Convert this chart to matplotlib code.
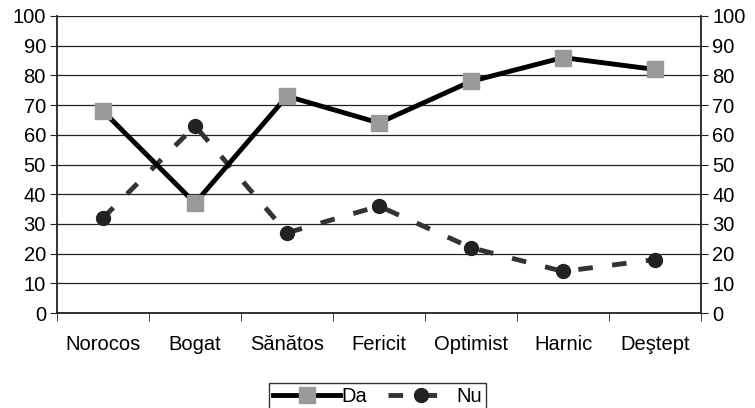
import matplotlib.pyplot as plt
import numpy as np

plt.rcParams['font.family'] = ['Liberation Sans', 'DejaVu Sans']

categorii = ['Norocos', 'Bogat', 'Sănătos', 'Fericit', 'Optimist', 'Harnic', 'Deştept']
da = [68, 37, 73, 64, 78, 86, 82]
nu = [32, 63, 27, 36, 22, 14, 18]

fig = plt.figure(figsize=(7.55, 4.08), dpi=100)
ax = fig.add_axes([0.0755, 0.2328, 0.853, 0.728])
x = np.arange(len(categorii))

ax.plot(x, nu, color='#333333', lw=3.5, dashes=(3, 4), marker='o', ms=10,
        markerfacecolor='#222222', markeredgecolor='#222222', label='Nu', zorder=3)
ax.plot(x, da, color='black', lw=3.5, marker='s', ms=11,
        markerfacecolor='#999999', markeredgecolor='#999999', label='Da', zorder=4)

ax.set_xlim(-0.5, len(categorii) - 0.5)
ax.set_ylim(0, 100)
ax.set_yticks(np.arange(0, 101, 10))
ax.yaxis.grid(True, color='#222222', lw=0.9)
ax.set_axisbelow(True)

fs = 14.5
ax.set_xticks(x)
ax.set_xticklabels(categorii, fontsize=fs)
ax.set_xticks(np.arange(-0.5, len(categorii)), minor=True)
ax.tick_params(axis='x', which='major', length=0, pad=16)
ax.tick_params(axis='x', which='minor', length=6, direction='out', color='#222222')
ax.tick_params(axis='y', labelsize=fs, length=5, direction='out', color='#222222',
               left=True, right=True, labelleft=True, labelright=True, pad=3)
ax.tick_params(axis='y', which='major', right=True)
for lab in ax.get_yticklabels(which='major'):
    pass

for s in ['left', 'right', 'bottom']:
    ax.spines[s].set_color('#222222')
    ax.spines[s].set_linewidth(1.3)
ax.spines['top'].set_visible(False)

h, l = ax.get_legend_handles_labels()
leg = fig.legend(h[::-1], l[::-1], loc='upper center', bbox_to_anchor=(0.5, 0.085),
                 ncol=2, fontsize=fs, frameon=True, fancybox=False,
                 handlelength=3.3, handletextpad=0.1, columnspacing=1.0,
                 borderpad=0.2, edgecolor='black')
leg.get_frame().set_linewidth(1.0)

fig.savefig('out.png', dpi=100)
